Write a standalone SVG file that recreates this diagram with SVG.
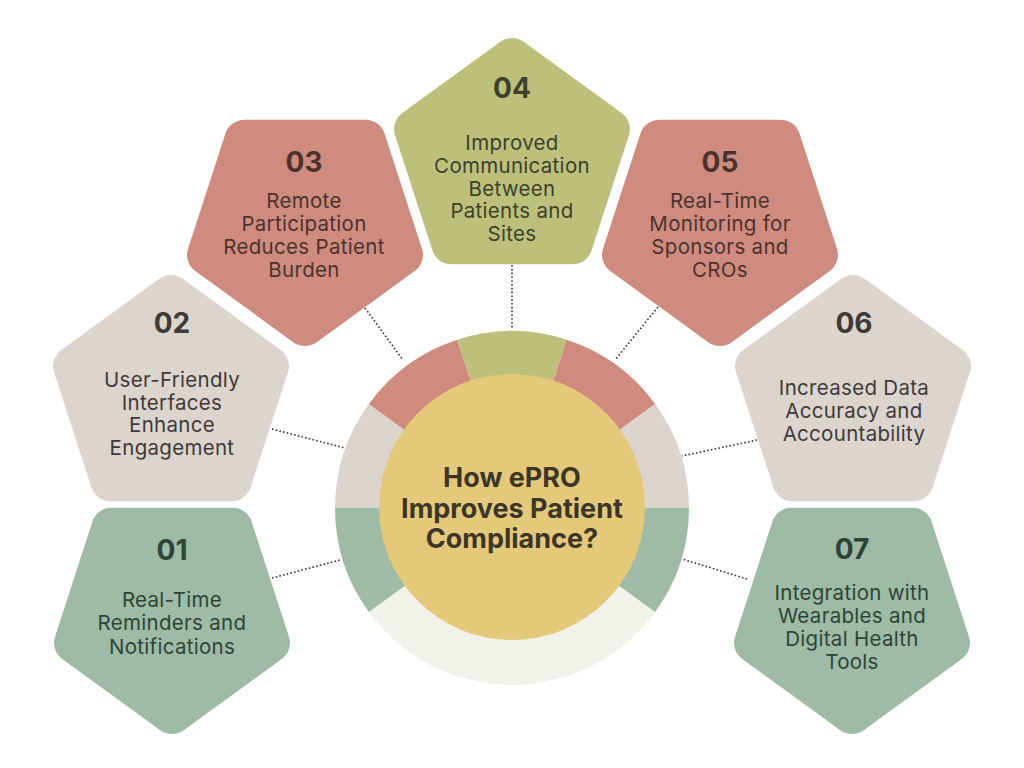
<svg xmlns="http://www.w3.org/2000/svg" xmlns:xlink="http://www.w3.org/1999/xlink" width="1024" height="768" viewBox="0 0 1024 768">
<style>
.num{font-family:Inter,"Liberation Sans",sans-serif;font-weight:700;font-size:28px;text-anchor:middle}
.txt{font-family:Inter,"Liberation Sans",sans-serif;font-weight:400;font-size:20.5px;letter-spacing:0.3px;text-anchor:middle}
.ctr{font-family:Inter,"Liberation Sans",sans-serif;font-weight:700;font-size:27px;text-anchor:middle;fill:#3b3626}
.shape{stroke-width:40;stroke-linejoin:round}
.green{fill:#9dbba5;stroke:#9dbba5}
.beige{fill:#dcd5ce;stroke:#dcd5ce}
.red{fill:#d08b7f;stroke:#d08b7f}
.olive{fill:#bcc07b;stroke:#bcc07b}
.tg{fill:#2f4437}
.tb{fill:#3e3a37}
.tr{fill:#4a332e}
.to{fill:#3c402c}
.dot{stroke:#333;stroke-width:1.6;stroke-dasharray:1.6 2.2;fill:none}
</style>
<defs>
<polygon id="pu" points="0,-103 97.96,-31.83 60.54,83.33 -60.54,83.33 -97.96,-31.83"/>
<polygon id="pd" points="0,103 97.96,31.83 60.54,-83.33 -60.54,-83.33 -97.96,31.83"/>
</defs>
<rect width="1024" height="768" fill="#ffffff"/>

<g id="connectors">
<line class="dot" x1="272" y1="578" x2="340" y2="560"/>
<line class="dot" x1="272" y1="429" x2="345" y2="448"/>
<line class="dot" x1="365" y1="308" x2="403" y2="360"/>
<line class="dot" x1="512" y1="265" x2="512" y2="328"/>
<line class="dot" x1="658" y1="307" x2="615" y2="360"/>
<line class="dot" x1="757" y1="440" x2="682" y2="456"/>
<line class="dot" x1="747" y1="579" x2="682" y2="559"/>
</g>

<g id="hub">
<path d="M512,508 L655.2,612 A177,177 0 0 1 368.8,612 Z" fill="#f1f2ea"/>
<path d="M512,508 L368.8,612 A177,177 0 0 1 335,508 Z" fill="#9dbba5"/>
<path d="M512,508 L335,508 A177,177 0 0 1 368.8,404 Z" fill="#dcd5ce"/>
<path d="M512,508 L368.8,404 A177,177 0 0 1 457.3,339.7 Z" fill="#d08b7f"/>
<path d="M512,508 L457.3,339.7 A177,177 0 0 1 566.7,339.7 Z" fill="#bcc07b"/>
<path d="M512,508 L566.7,339.7 A177,177 0 0 1 655.2,404 Z" fill="#d08b7f"/>
<path d="M512,508 L655.2,404 A177,177 0 0 1 689,508 Z" fill="#dcd5ce"/>
<path d="M512,508 L689,508 A177,177 0 0 1 655.2,612 Z" fill="#9dbba5"/>
<circle cx="512" cy="507" r="133" fill="#e5c97b"/>
<text class="ctr" x="512" y="487">How ePRO</text>
<text class="ctr" x="512" y="518">Improves Patient</text>
<text class="ctr" x="512" y="548">Compliance?</text>
</g>

<g id="node01">
<use xlink:href="#pd" class="shape green" transform="translate(172,611)"/>
<text class="num tg" x="172" y="560">01</text>
<text class="txt tg" x="172" y="607">Real-Time</text>
<text class="txt tg" x="172" y="630">Reminders and</text>
<text class="txt tg" x="172" y="654">Notifications</text>
</g>

<g id="node02">
<use xlink:href="#pu" class="shape beige" transform="translate(171,398)"/>
<text class="num tb" x="172" y="333">02</text>
<text class="txt tb" x="172" y="387">User-Friendly</text>
<text class="txt tb" x="172" y="410">Interfaces</text>
<text class="txt tb" x="172" y="432">Enhance</text>
<text class="txt tb" x="172" y="455">Engagement</text>
</g>

<g id="node03">
<use xlink:href="#pd" class="shape red" transform="translate(305,223)"/>
<text class="num tr" x="304" y="172">03</text>
<text class="txt tr" x="304" y="208">Remote</text>
<text class="txt tr" x="304" y="231">Participation</text>
<text class="txt tr" x="304" y="254">Reduces Patient</text>
<text class="txt tr" x="304" y="277">Burden</text>
</g>

<g id="node04">
<use xlink:href="#pu" class="shape olive" transform="translate(512,161)"/>
<text class="num to" x="512" y="98">04</text>
<text class="txt to" x="512" y="150">Improved</text>
<text class="txt to" x="512" y="173">Communication</text>
<text class="txt to" x="512" y="196">Between</text>
<text class="txt to" x="512" y="218">Patients and</text>
<text class="txt to" x="512" y="241">Sites</text>
</g>

<g id="node05">
<use xlink:href="#pd" class="shape red" transform="translate(720,223)"/>
<text class="num tr" x="720" y="172">05</text>
<text class="txt tr" x="720" y="208">Real-Time</text>
<text class="txt tr" x="720" y="231">Monitoring for</text>
<text class="txt tr" x="720" y="254">Sponsors and</text>
<text class="txt tr" x="720" y="277">CROs</text>
</g>

<g id="node06">
<use xlink:href="#pu" class="shape beige" transform="translate(853,398)"/>
<text class="num tb" x="854" y="333">06</text>
<text class="txt tb" x="854" y="395">Increased Data</text>
<text class="txt tb" x="854" y="418">Accuracy and</text>
<text class="txt tb" x="854" y="441">Accountability</text>
</g>

<g id="node07">
<use xlink:href="#pd" class="shape green" transform="translate(852,611)"/>
<text class="num tg" x="852" y="559">07</text>
<text class="txt tg" x="852" y="600">Integration with</text>
<text class="txt tg" x="852" y="623">Wearables and</text>
<text class="txt tg" x="852" y="646">Digital Health</text>
<text class="txt tg" x="852" y="669">Tools</text>
</g>
</svg>
